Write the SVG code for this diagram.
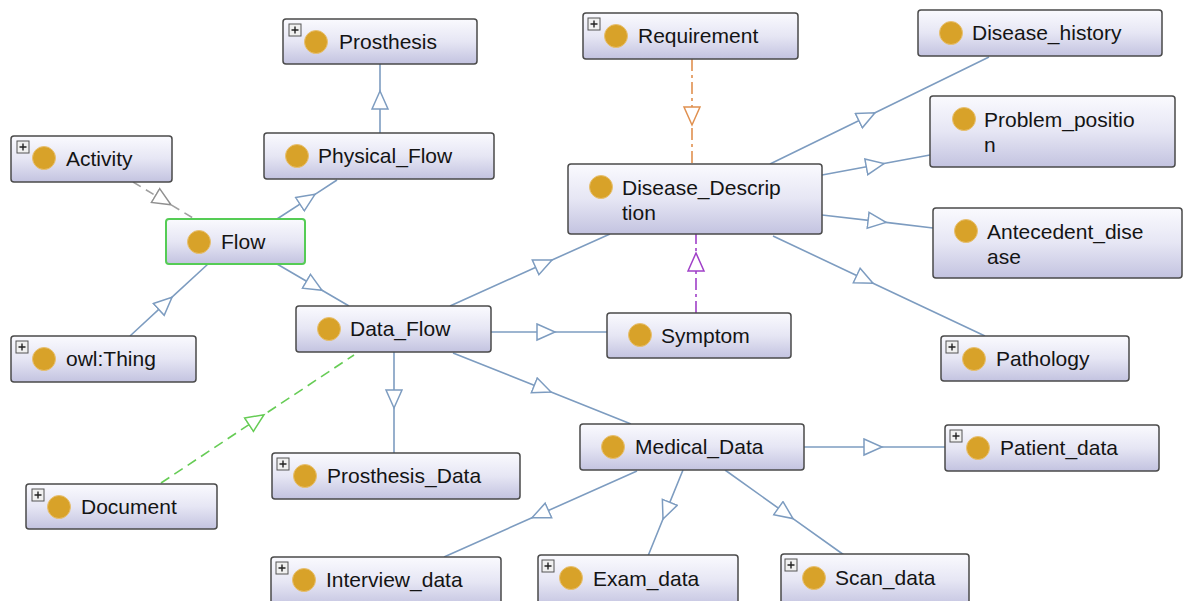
<svg xmlns="http://www.w3.org/2000/svg" width="1184" height="601" viewBox="0 0 1184 601">
<style>
.box{fill:url(#ng);stroke:#4a4a4a;stroke-width:1.5}
.sel{fill:url(#ng);stroke:#55cc55;stroke-width:2}
.dot{fill:#d8a229;stroke:#e8c070;stroke-width:1}
.lbl{font-family:"Liberation Sans",Arial,sans-serif;font-size:21px;fill:#141414}
.pb{fill:#f0f0f0;stroke:#555;stroke-width:1}
.pl{stroke:#222;stroke-width:1.4}
.e{fill:none;stroke:#7d9cc0;stroke-width:1.6;marker-mid:url(#ab)}
.eg{fill:none;stroke:#a0a0a0;stroke-width:1.6;stroke-dasharray:9 6;marker-mid:url(#agr)}
.egn{fill:none;stroke:#66cc55;stroke-width:1.6;stroke-dasharray:10 6;marker-mid:url(#agn)}
.eo{fill:none;stroke:#e0904f;stroke-width:1.6;stroke-dasharray:12 4 3 4;marker-mid:url(#aor)}
.ep{fill:none;stroke:#a040c8;stroke-width:1.6;stroke-dasharray:12 4 3 4;marker-mid:url(#apu)}
</style>
<defs>
<linearGradient id="ng" x1="0" y1="0" x2="0" y2="1">
<stop offset="0" stop-color="#fafafe"/>
<stop offset="0.5" stop-color="#e6e6f4"/>
<stop offset="1" stop-color="#c3c3e0"/>
</linearGradient>
<marker id="ab" markerUnits="userSpaceOnUse" markerWidth="22" markerHeight="20" refX="19" refY="9" orient="auto" viewBox="0 0 22 20"><path d="M1,1 L19,9 L1,17 Z" fill="#fff" stroke="#7d9cc0" stroke-width="1.5"/></marker>
<marker id="agr" markerUnits="userSpaceOnUse" markerWidth="22" markerHeight="20" refX="19" refY="9" orient="auto" viewBox="0 0 22 20"><path d="M1,1 L19,9 L1,17 Z" fill="#fff" stroke="#909090" stroke-width="1.5"/></marker>
<marker id="agn" markerUnits="userSpaceOnUse" markerWidth="22" markerHeight="20" refX="19" refY="9" orient="auto" viewBox="0 0 22 20"><path d="M1,1 L19,9 L1,17 Z" fill="#fff" stroke="#66cc55" stroke-width="1.5"/></marker>
<marker id="aor" markerUnits="userSpaceOnUse" markerWidth="22" markerHeight="20" refX="19" refY="9" orient="auto" viewBox="0 0 22 20"><path d="M1,1 L19,9 L1,17 Z" fill="#fff" stroke="#e0904f" stroke-width="1.5"/></marker>
<marker id="apu" markerUnits="userSpaceOnUse" markerWidth="22" markerHeight="20" refX="19" refY="9" orient="auto" viewBox="0 0 22 20"><path d="M1,1 L19,9 L1,17 Z" fill="#fff" stroke="#a040c8" stroke-width="1.5"/></marker>
<g id="plus"><rect class="pb" x="0" y="0" width="12" height="12"/><path class="pl" d="M2.5,6 H9.5 M6,2.5 V9.5"/></g>
</defs>
<rect width="1184" height="601" fill="#ffffff"/>
<g id="connectors">
<path class="e" d="M380,133 L380,91 L380,64"/>
<path class="e" d="M277,219 L315,194.3 L337,180"/>
<path class="e" d="M130,336 L172,297.2 L208,264"/>
<path class="eg" d="M133,182 L171,204.8 L193,218"/>
<path class="e" d="M277,264 L322,290.3 L349,306"/>
<path class="egn" d="M161,483 L264,414.7 L354,355"/>
<path class="e" d="M450,306 L552,260 L610,234"/>
<path class="e" d="M491,332 L555,332 L607,332"/>
<path class="e" d="M394,352 L394,408 L394,453"/>
<path class="e" d="M453,353 L551,392 L631,424"/>
<path class="eo" d="M692,59 L692,125 L692,164"/>
<path class="ep" d="M696,313 L696,253 L696,234"/>
<path class="e" d="M770,164 L875,112.7 L989,57"/>
<path class="e" d="M822,175 L884,163.5 L930,155"/>
<path class="e" d="M822,215 L886,222.4 L933,228"/>
<path class="e" d="M773,236 L873,283.2 L985,336"/>
<path class="e" d="M804,447 L882,447 L945,447"/>
<path class="e" d="M637,471 L532,517.8 L444,557"/>
<path class="e" d="M683,470 L663,519 L648,556"/>
<path class="e" d="M725,470 L793,518.6 L844,555"/>
</g>
<g id="Prosthesis"><rect class="box" x="283" y="19" width="194" height="45" rx="3"/><use href="#plus" x="289" y="24"/><circle class="dot" cx="316" cy="42" r="11.5"/><text class="lbl" x="339" y="49">Prosthesis</text></g>
<g id="Activity"><rect class="box" x="11" y="136" width="161" height="46" rx="3"/><use href="#plus" x="17" y="141"/><circle class="dot" cx="44" cy="158" r="11.5"/><text class="lbl" x="66" y="166">Activity</text></g>
<g id="Physical_Flow"><rect class="box" x="264" y="133" width="230" height="46" rx="3"/><circle class="dot" cx="297" cy="156" r="11.5"/><text class="lbl" x="318" y="163">Physical_Flow</text></g>
<g id="Flow"><rect class="sel" x="166" y="219" width="139" height="45" rx="3"/><circle class="dot" cx="199" cy="242" r="11.5"/><text class="lbl" x="221" y="249">Flow</text></g>
<g id="owl_Thing"><rect class="box" x="11" y="336" width="185" height="46" rx="3"/><use href="#plus" x="16" y="341"/><circle class="dot" cx="44" cy="359" r="11.5"/><text class="lbl" x="66" y="366">owl:Thing</text></g>
<g id="Data_Flow"><rect class="box" x="296" y="306" width="195" height="46" rx="3"/><circle class="dot" cx="329" cy="329" r="11.5"/><text class="lbl" x="350" y="336">Data_Flow</text></g>
<g id="Document"><rect class="box" x="26" y="484" width="191" height="45" rx="3"/><use href="#plus" x="32" y="489"/><circle class="dot" cx="59" cy="507" r="11.5"/><text class="lbl" x="81" y="514">Document</text></g>
<g id="Prosthesis_Data"><rect class="box" x="272" y="453" width="248" height="46" rx="3"/><use href="#plus" x="277" y="458"/><circle class="dot" cx="305" cy="476" r="11.5"/><text class="lbl" x="327" y="483">Prosthesis_Data</text></g>
<g id="Interview_data"><rect class="box" x="271" y="557" width="230" height="50" rx="3"/><use href="#plus" x="276" y="562"/><circle class="dot" cx="304" cy="580" r="11.5"/><text class="lbl" x="326" y="587">Interview_data</text></g>
<g id="Exam_data"><rect class="box" x="538" y="555" width="200" height="52" rx="3"/><use href="#plus" x="542" y="560"/><circle class="dot" cx="571" cy="578" r="11.5"/><text class="lbl" x="593" y="586">Exam_data</text></g>
<g id="Scan_data"><rect class="box" x="781" y="554" width="188" height="53" rx="3"/><use href="#plus" x="785" y="559"/><circle class="dot" cx="814" cy="578" r="11.5"/><text class="lbl" x="835" y="585">Scan_data</text></g>
<g id="Medical_Data"><rect class="box" x="580" y="424" width="224" height="46" rx="3"/><circle class="dot" cx="613" cy="447" r="11.5"/><text class="lbl" x="635" y="454">Medical_Data</text></g>
<g id="Patient_data"><rect class="box" x="945" y="425" width="214" height="46" rx="3"/><use href="#plus" x="950" y="430"/><circle class="dot" cx="978" cy="448" r="11.5"/><text class="lbl" x="1000" y="455">Patient_data</text></g>
<g id="Symptom"><rect class="box" x="607" y="313" width="184" height="45" rx="3"/><circle class="dot" cx="640" cy="335" r="11.5"/><text class="lbl" x="661" y="343">Symptom</text></g>
<g id="Pathology"><rect class="box" x="941" y="336" width="188" height="45" rx="3"/><use href="#plus" x="946" y="341"/><circle class="dot" cx="974" cy="359" r="11.5"/><text class="lbl" x="996" y="366">Pathology</text></g>
<g id="Requirement"><rect class="box" x="583" y="13" width="215" height="46" rx="3"/><use href="#plus" x="588" y="18"/><circle class="dot" cx="616" cy="36" r="11.5"/><text class="lbl" x="638" y="43">Requirement</text></g>
<g id="Disease_history"><rect class="box" x="918" y="10" width="244" height="46" rx="3"/><circle class="dot" cx="951" cy="33" r="11.5"/><text class="lbl" x="972" y="40">Disease_history</text></g>
<g id="Problem_position"><rect class="box" x="930" y="96" width="245" height="71" rx="3"/><circle class="dot" cx="964" cy="119" r="11.5"/><text class="lbl" x="984" y="127">Problem_positio</text><text class="lbl" x="984" y="152">n</text></g>
<g id="Disease_Description"><rect class="box" x="568" y="164" width="254" height="70" rx="3"/><circle class="dot" cx="601" cy="187" r="11.5"/><text class="lbl" x="622" y="195">Disease_Descrip</text><text class="lbl" x="622" y="220">tion</text></g>
<g id="Antecedent_disease"><rect class="box" x="933" y="208" width="249" height="70" rx="3"/><circle class="dot" cx="966" cy="231" r="11.5"/><text class="lbl" x="987" y="239">Antecedent_dise</text><text class="lbl" x="987" y="264">ase</text></g>
</svg>
